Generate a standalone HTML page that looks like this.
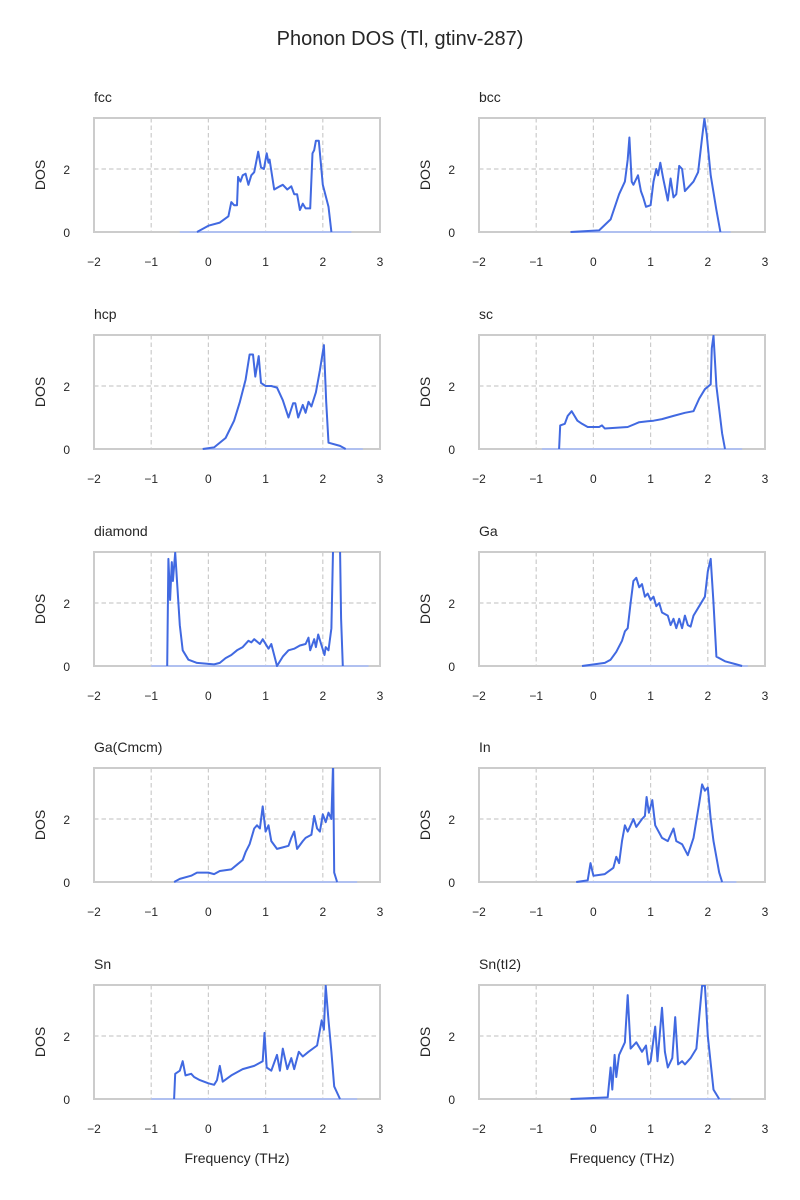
<!DOCTYPE html>
<html><head><meta charset="utf-8"><style>
body{margin:0;background:#fff}
svg{display:block;font-family:"Liberation Sans","DejaVu Sans",sans-serif}
</style></head><body>
<svg id="c" width="800" height="1200">
<text x="400" y="45" text-anchor="middle" font-size="20" fill="#262626">Phonon DOS (Tl, gtinv-287)</text>
</svg>
<script>
const panelNames = ["fcc","bcc","hcp","sc","diamond","Ga","Ga(Cmcm)","In","Sn","Sn(tI2)"];
const xTicks = [-2,-1,0,1,2,3];
const yTicks = [0,2];
const fcc = [[-0.5,0],[-0.2,0],[0,0.2],[0.2,0.3],[0.35,0.5],[0.4,0.95],[0.45,0.85],[0.5,0.85],[0.52,1.75],[0.56,1.6],[0.6,1.8],[0.65,1.85],[0.7,1.5],[0.75,1.8],[0.8,1.9],[0.87,2.55],[0.92,2.05],[0.97,2.0],[1.02,2.5],[1.05,2.2],[1.07,2.3],[1.15,1.35],[1.25,1.45],[1.3,1.5],[1.38,1.35],[1.45,1.45],[1.5,1.2],[1.55,1.2],[1.6,0.7],[1.65,0.9],[1.7,0.75],[1.78,0.75],[1.82,2.5],[1.85,2.6],[1.88,2.9],[1.93,2.9],[2.0,1.5],[2.1,0.8],[2.15,0],[2.5,0]];
const bcc = [[-0.4,0],[0.1,0.05],[0.3,0.4],[0.45,1.2],[0.55,1.6],[0.6,2.3],[0.63,3.0],[0.67,1.6],[0.7,1.5],[0.78,1.8],[0.83,1.3],[0.87,1.1],[0.92,0.8],[1.0,0.85],[1.05,1.6],[1.1,2.0],[1.13,1.8],[1.17,2.2],[1.22,1.7],[1.3,1.0],[1.35,1.7],[1.4,1.1],[1.45,1.2],[1.5,2.1],[1.55,2.0],[1.6,1.3],[1.7,1.5],[1.75,1.6],[1.83,1.9],[1.9,3.0],[1.94,3.6],[1.98,3.1],[2.05,1.8],[2.15,0.7],[2.22,0],[2.4,0]];
const hcp = [[-0.1,0],[0.1,0.05],[0.3,0.35],[0.45,0.9],[0.55,1.5],[0.65,2.2],[0.72,3.0],[0.78,3.0],[0.82,2.3],[0.88,2.95],[0.92,2.1],[1.0,2.0],[1.1,2.0],[1.2,1.95],[1.3,1.55],[1.4,1.0],[1.48,1.45],[1.52,1.45],[1.57,1.0],[1.65,1.4],[1.7,1.15],[1.75,1.5],[1.8,1.35],[1.88,1.8],[1.95,2.5],[2.02,3.3],[2.06,1.5],[2.1,0.2],[2.3,0.1],[2.4,0],[2.7,0]];
const sc = [[-0.9,0],[-0.6,0],[-0.58,0.75],[-0.5,0.8],[-0.45,1.05],[-0.38,1.2],[-0.33,1.05],[-0.28,0.9],[-0.2,0.8],[-0.1,0.7],[0.1,0.7],[0.15,0.75],[0.2,0.65],[0.6,0.7],[0.8,0.85],[0.95,0.88],[1.05,0.9],[1.2,0.95],[1.4,1.05],[1.6,1.15],[1.75,1.2],[1.85,1.6],[1.95,1.9],[2.05,2.05],[2.07,3.2],[2.1,3.6],[2.15,2.0],[2.25,0.5],[2.3,0],[2.6,0]];
const diamond = [[-1.0,0],[-0.72,0],[-0.7,3.4],[-0.67,2.1],[-0.64,3.3],[-0.62,2.7],[-0.58,3.6],[-0.5,1.3],[-0.45,0.5],[-0.35,0.2],[-0.2,0.1],[0.1,0.05],[0.2,0.1],[0.3,0.25],[0.4,0.35],[0.5,0.5],[0.6,0.6],[0.7,0.8],[0.75,0.75],[0.8,0.85],[0.9,0.7],[0.95,0.85],[1.05,0.55],[1.1,0.7],[1.2,0.0],[1.3,0.3],[1.4,0.5],[1.5,0.55],[1.6,0.65],[1.7,0.7],[1.75,0.9],[1.78,0.5],[1.85,0.85],[1.88,0.6],[1.92,1.0],[1.97,0.7],[2.03,0.35],[2.05,0.6],[2.1,0.5],[2.15,1.2],[2.18,3.8],[2.3,3.8],[2.32,1.5],[2.35,0],[2.8,0]];
const ga = [[-0.2,0],[0.2,0.1],[0.3,0.2],[0.4,0.45],[0.5,0.8],[0.55,1.1],[0.6,1.2],[0.65,2.0],[0.7,2.7],[0.75,2.8],[0.8,2.5],[0.85,2.6],[0.9,2.2],[0.95,2.3],[1.0,2.1],[1.05,2.2],[1.1,1.9],[1.15,2.0],[1.2,1.7],[1.3,1.6],[1.35,1.3],[1.4,1.5],[1.45,1.2],[1.5,1.5],[1.55,1.2],[1.6,1.6],[1.65,1.3],[1.7,1.25],[1.75,1.6],[1.85,1.9],[1.95,2.2],[2.0,3.0],[2.05,3.4],[2.1,2.0],[2.15,0.3],[2.3,0.15],[2.5,0.05],[2.6,0],[2.7,0]];
const gaCmcm = [[-0.6,0],[-0.5,0.1],[-0.3,0.2],[-0.2,0.3],[0,0.3],[0.1,0.25],[0.2,0.35],[0.4,0.4],[0.5,0.55],[0.6,0.7],[0.65,0.95],[0.72,1.2],[0.8,1.7],[0.85,1.8],[0.9,1.7],[0.95,2.4],[1.0,1.6],[1.05,1.8],[1.1,1.3],[1.2,1.05],[1.3,1.1],[1.4,1.15],[1.45,1.4],[1.5,1.6],[1.55,1.05],[1.65,1.3],[1.7,1.4],[1.8,1.5],[1.85,2.1],[1.9,1.7],[1.95,1.6],[2.0,2.15],[2.05,1.9],[2.1,2.2],[2.15,2.0],[2.18,3.8],[2.2,0.3],[2.25,0],[2.6,0]];
const inn = [[-0.3,0],[-0.1,0.05],[-0.05,0.6],[0.0,0.2],[0.2,0.25],[0.35,0.45],[0.4,0.8],[0.45,0.6],[0.5,1.3],[0.55,1.8],[0.6,1.6],[0.65,1.8],[0.7,2.0],[0.75,1.75],[0.85,2.0],[0.9,2.1],[0.93,2.7],[0.97,2.2],[1.03,2.6],[1.08,1.8],[1.2,1.4],[1.3,1.3],[1.4,1.7],[1.45,1.3],[1.55,1.2],[1.65,0.85],[1.75,1.4],[1.85,2.5],[1.9,3.1],[1.95,2.9],[2.0,3.0],[2.05,2.0],[2.1,1.3],[2.2,0.3],[2.25,0],[2.5,0]];
const sn = [[-1.0,0],[-0.6,0],[-0.58,0.8],[-0.5,0.9],[-0.45,1.2],[-0.4,0.75],[-0.3,0.8],[-0.25,0.7],[-0.15,0.6],[0.0,0.5],[0.1,0.45],[0.15,0.6],[0.2,1.05],[0.25,0.55],[0.4,0.75],[0.6,0.95],[0.8,1.05],[0.95,1.2],[0.98,2.1],[1.02,1.0],[1.1,0.9],[1.2,1.4],[1.25,0.9],[1.3,1.6],[1.38,0.95],[1.45,1.3],[1.5,0.95],[1.58,1.5],[1.65,1.35],[1.75,1.5],[1.9,1.7],[1.98,2.5],[2.02,2.2],[2.05,3.6],[2.1,2.5],[2.15,1.5],[2.2,0.4],[2.3,0],[2.6,0]];
const snTI2 = [[-0.4,0],[0.25,0.05],[0.3,1.0],[0.33,0.3],[0.37,1.4],[0.4,0.7],[0.45,1.4],[0.55,1.8],[0.6,3.3],[0.65,1.6],[0.75,1.8],[0.85,1.5],[0.92,1.7],[0.96,1.1],[1.0,1.2],[1.08,2.3],[1.12,1.2],[1.2,2.9],[1.25,1.5],[1.3,1.0],[1.38,1.3],[1.43,2.6],[1.48,1.1],[1.55,1.2],[1.6,1.1],[1.7,1.3],[1.8,1.6],[1.85,2.6],[1.9,3.6],[1.95,3.6],[2.0,2.0],[2.1,0.3],[2.2,0],[2.4,0]];
const series = [fcc,bcc,hcp,sc,diamond,ga,gaCmcm,inn,sn,snTI2];

const NS="http://www.w3.org/2000/svg";
const svg=document.getElementById('c');
function mk(tag,attrs,parent){const e=document.createElementNS(NS,tag);for(const k in attrs)e.setAttribute(k,attrs[k]);(parent||svg).appendChild(e);return e;}
const W=286,H=114,xmin=-2,xmax=3,ymin=0,ymax=3.62;
const lefts=[94,479], tops=[118,335,552,768,985];
series.forEach((data,i)=>{
  const L=lefts[i%2], T=tops[Math.floor(i/2)];
  const xs=v=>L+(v-xmin)/(xmax-xmin)*W;
  const ys=v=>T+H-(v-ymin)/(ymax-ymin)*H;
  const g=mk('g',{});
  
  
  const cp=mk('clipPath',{id:'cp'+i},g);
  mk('rect',{x:L,y:T,width:W,height:H+2},cp);
  xTicks.forEach(t=>{
    const gl=mk('line',{x1:xs(t),x2:xs(t),y1:T,y2:T+H,stroke:'#cccccc','stroke-width':1.2,'stroke-dasharray':'4.5,3'},g);
    
    
    const tl=mk('text',{x:xs(t),y:T+H+34,'text-anchor':'middle','font-size':12,fill:'#262626'},g);
    tl.textContent=(t<0?'\u2212':'')+Math.abs(t);
    
    
  });
  yTicks.forEach(t=>{
    if(t>0){const gl=mk('line',{x1:L,x2:L+W,y1:ys(t),y2:ys(t),stroke:'#cccccc','stroke-width':1.2,'stroke-dasharray':'4.5,3'},g);
    
    }
    const tl=mk('text',{x:L-24,y:ys(t)+5,'text-anchor':'end','font-size':12,fill:'#262626'},g);
    tl.textContent=t;
    
    
  });
  const fr=mk('rect',{x:L,y:T,width:W,height:H,fill:'none',stroke:'#cccccc','stroke-width':2},g);
  
  
  const base=mk('line',{x1:xs(data[0][0]),x2:xs(data[data.length-1][0]),y1:ys(0),y2:ys(0),stroke:'#b0c0f0','stroke-width':2,'clip-path':'url(#cp'+i+')'},g);
  
  
  let lastPos=0; data.forEach((p,j)=>{if(p[1]>0)lastPos=j;});
  let firstPos=data.findIndex(p=>p[1]>0);
  const sub=data.slice(Math.max(0,firstPos-1),Math.min(data.length,lastPos+2));
  const pts=sub.map(p=>xs(p[0]).toFixed(1)+','+ys(p[1]).toFixed(1)).join(' ');
  const pl=mk('polyline',{points:pts,fill:'none',stroke:'#4169e1','stroke-width':2,'stroke-linejoin':'round','clip-path':'url(#cp'+i+')'},g);
  
  
  const pt=mk('text',{x:L,y:T-16,'font-size':14,fill:'#262626'},g);
  pt.textContent=panelNames[i];
  
  
  const yl=mk('text',{x:0,y:0,'text-anchor':'middle','font-size':14,fill:'#262626',transform:'translate('+(L-49)+','+(T+H/2)+') rotate(-90)'},g);
  yl.textContent='DOS';
  
  
  if(i>=8){
    const xl=mk('text',{x:L+W/2,y:T+H+64,'text-anchor':'middle','font-size':14,fill:'#262626'},g);
    xl.textContent='Frequency (THz)';
    
    
  }
});
</script>
</body></html>
